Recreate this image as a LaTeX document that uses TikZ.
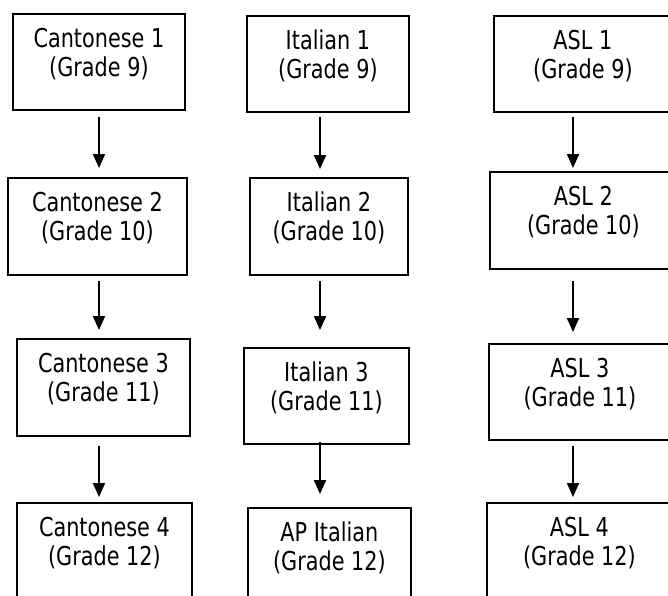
\documentclass[tikz,border=0pt]{standalone}
\usepackage{fontspec}
\setmainfont[FakeStretch=0.8]{DejaVu Sans}
\usetikzlibrary{arrows.meta}
\tikzset{
  box/.style={draw=black, line width=1.8pt, anchor=north west, inner sep=0pt, fill=white},
  lbl/.style={anchor=north, inner sep=0pt, align=center, font=\fontsize{26}{29}\selectfont},
  arr/.style={line width=2pt, -{Triangle[width=12pt,length=14pt]}}
}
\newcommand{\cbox}[6]{%
  \node[box, minimum width=#4pt, minimum height=#5pt] (#1) at (#2,#3) {};
  \node[lbl] (#1t) at ([yshift=-15pt]#1.north) {#6};
}
\begin{document}
\begin{tikzpicture}[x=1pt,y=-1pt]
\clip (0,0) rectangle (668,595);
\fill[white] (0,0) rectangle (668,595);
% Cantonese column
\cbox{c1}{12}{13}{172}{96}{Cantonese 1\\(Grade 9)}
\cbox{c2}{7}{177}{179}{97}{Cantonese 2\\(Grade 10)}
\cbox{c3}{16}{338}{173}{97}{Cantonese 3\\(Grade 11)}
\cbox{c4}{16}{502}{175}{97}{Cantonese 4\\(Grade 12)}
% Italian column
\cbox{i1}{246}{15}{162}{96}{Italian 1\\(Grade 9)}
\cbox{i2}{249}{177}{158}{97}{Italian 2\\(Grade 10)}
\cbox{i3}{243}{347}{165}{96}{Italian 3\\(Grade 11)}
\cbox{i4}{247}{507}{163}{97}{AP Italian\\(Grade 12)}
% ASL column
\cbox{a1}{493}{15}{178}{96}{ASL 1\\(Grade 9)}
\cbox{a2}{489}{171}{187}{97}{ASL 2\\(Grade 10)}
\cbox{a3}{488}{343}{182}{96}{ASL 3\\(Grade 11)}
\cbox{a4}{486}{502}{185}{97}{ASL 4\\(Grade 12)}
% arrows
\coordinate (xc) at (99,0);
\coordinate (xi) at (320,0);
\coordinate (xa) at (573,0);
\draw[arr, shorten <=6pt, shorten >=9pt] (c1.south -| xc) -- (c2.north -| xc);
\draw[arr, shorten <=5pt, shorten >=8pt] (c2.south -| xc) -- (c3.north -| xc);
\draw[arr, shorten <=9pt, shorten >=5pt] (c3.south -| xc) -- (c4.north -| xc);
\draw[arr, shorten <=4pt, shorten >=8pt] (i1.south -| xi) -- (i2.north -| xi);
\draw[arr, shorten <=5pt, shorten >=17pt] (i2.south -| xi) -- (i3.north -| xi);
\draw[arr, shorten <=-3pt, shorten >=13pt] (i3.south -| xi) -- (i4.north -| xi);
\draw[arr, shorten <=4pt, shorten >=3pt] (a1.south -| xa) -- (a2.north -| xa);
\draw[arr, shorten <=11pt, shorten >=11pt] (a2.south -| xa) -- (a3.north -| xa);
\draw[arr, shorten <=5pt, shorten >=5pt] (a3.south -| xa) -- (a4.north -| xa);
\end{tikzpicture}
\end{document}
